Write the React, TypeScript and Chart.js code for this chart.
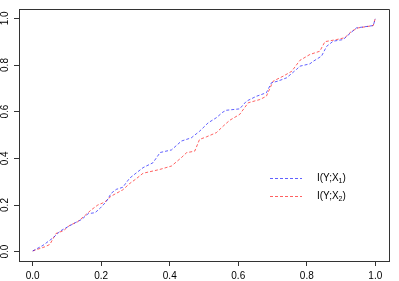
import React, { useEffect, useRef } from "react";
import { Chart, registerables } from "chart.js";

Chart.register(...registerables);

const blueX = [0.0, 0.03, 0.06, 0.08, 0.104, 0.124, 0.143, 0.162, 0.182, 0.196, 0.215, 0.229, 0.244, 0.263, 0.283, 0.322, 0.351, 0.372, 0.405, 0.434, 0.463, 0.487, 0.512, 0.536, 0.555, 0.565, 0.604, 0.624, 0.653, 0.682, 0.697, 0.716, 0.741, 0.77, 0.78, 0.809, 0.819, 0.843, 0.858, 0.877, 0.906, 0.926, 0.945, 0.994, 1.0];
const blueY = [0.003, 0.027, 0.06, 0.088, 0.108, 0.124, 0.138, 0.163, 0.167, 0.185, 0.215, 0.25, 0.267, 0.276, 0.315, 0.36, 0.381, 0.425, 0.436, 0.474, 0.488, 0.516, 0.552, 0.574, 0.598, 0.606, 0.612, 0.645, 0.666, 0.681, 0.724, 0.731, 0.745, 0.781, 0.795, 0.805, 0.816, 0.838, 0.88, 0.902, 0.909, 0.935, 0.959, 0.969, 0.998];

const redX = [0.0, 0.036, 0.05, 0.068, 0.09, 0.108, 0.13, 0.151, 0.17, 0.19, 0.21, 0.229, 0.263, 0.283, 0.3, 0.322, 0.37, 0.405, 0.434, 0.449, 0.473, 0.487, 0.507, 0.536, 0.556, 0.575, 0.604, 0.629, 0.663, 0.682, 0.702, 0.731, 0.756, 0.78, 0.809, 0.838, 0.853, 0.887, 0.911, 0.931, 0.95, 0.994, 1.0];
const redY = [0.003, 0.021, 0.031, 0.078, 0.09, 0.113, 0.127, 0.153, 0.178, 0.2, 0.212, 0.238, 0.265, 0.292, 0.31, 0.336, 0.352, 0.367, 0.403, 0.424, 0.431, 0.481, 0.492, 0.51, 0.538, 0.563, 0.588, 0.638, 0.652, 0.666, 0.731, 0.752, 0.773, 0.82, 0.845, 0.859, 0.9, 0.909, 0.917, 0.945, 0.959, 0.969, 1.0];

const xTicks = [0, 0.2, 0.4, 0.6, 0.8, 1.0];
const yTicks = [0, 0.2, 0.4, 0.6, 0.8, 1.0];

const seriesLabels = ["I(Y;X\u2081)", "I(Y;X\u2082)"];
const legendBase = ["I(Y;X", "I(Y;X"];
const legendSub = ["1", "2"];
const legendTail = [")", ")"];

const BLUE = "rgba(0,0,255,0.62)";
const RED = "rgba(255,0,0,0.62)";
const FONT = "'Liberation Sans', Arial, sans-serif";
const AXIS = "#333";

const boxPlugin = {
  id: "box",
  afterDraw(chart: any) {
    const { ctx, chartArea: a } = chart;
    ctx.save();
    ctx.strokeStyle = AXIS;
    ctx.lineWidth = 1;
    ctx.setLineDash([]);
    ctx.beginPath();
    ctx.moveTo(Math.round(a.left) + 0.5, Math.round(a.top) + 0.5);
    ctx.lineTo(Math.round(a.right) + 0.5, Math.round(a.top) + 0.5);
    ctx.lineTo(Math.round(a.right) + 0.5, Math.round(a.bottom) + 0.5);
    ctx.stroke();
    ctx.restore();
  },
};

const legendPlugin = {
  id: "rlegend",
  afterDraw(chart: any) {
    const { ctx } = chart;
    const colors = [BLUE, RED];
    const rows = [178.5, 196.5];
    ctx.save();
    for (let i = 0; i < 2; i++) {
      const y = rows[i];
      ctx.strokeStyle = colors[i];
      ctx.lineWidth = 1;
      ctx.setLineDash([3, 2]);
      ctx.beginPath();
      ctx.moveTo(270, y);
      ctx.lineTo(302, y);
      ctx.stroke();
      ctx.setLineDash([]);
      ctx.fillStyle = "#000";
      ctx.textBaseline = "middle";
      ctx.textAlign = "left";
      let x = 317;
      ctx.font = `10px ${FONT}`;
      ctx.fillText(legendBase[i], x, y);
      x += ctx.measureText(legendBase[i]).width;
      ctx.font = `7px ${FONT}`;
      ctx.fillText(legendSub[i], x, y + 2.5);
      x += ctx.measureText(legendSub[i]).width;
      ctx.font = `10px ${FONT}`;
      ctx.fillText(legendTail[i], x, y);
    }
    ctx.restore();
  },
};

export default function App() {
  const ref = useRef<HTMLCanvasElement | null>(null);
  useEffect(() => {
    document.body.style.margin = "0";
    if (!ref.current) return;
    const chart = new Chart(ref.current, {
      type: "scatter",
      data: {
        datasets: [
          {
            label: seriesLabels[0],
            data: blueX.map((x, i) => ({ x, y: blueY[i] })),
            showLine: true,
            borderColor: BLUE,
            borderWidth: 1,
            borderDash: [3, 2],
            pointRadius: 0,
            tension: 0,
          },
          {
            label: seriesLabels[1],
            data: redX.map((x, i) => ({ x, y: redY[i] })),
            showLine: true,
            borderColor: RED,
            borderWidth: 1,
            borderDash: [3, 2],
            pointRadius: 0,
            tension: 0,
          },
        ],
      },
      options: {
        animation: false,
        responsive: false,
        layout: { padding: { top: 9, right: 10, left: 0, bottom: 0 } },
        plugins: { legend: { display: false }, tooltip: { enabled: false } },
        scales: {
          x: {
            type: "linear",
            min: -0.04,
            max: 1.04,
            afterBuildTicks: (s: any) => {
              s.ticks = xTicks.map((v) => ({ value: v }));
            },
            afterFit: (s: any) => {
              s.height = 20;
            },
            ticks: {
              autoSkip: false,
              maxRotation: 0,
              padding: 4,
              color: "#000",
              font: { family: FONT, size: 10 },
              callback: (v: any) => Number(v).toFixed(1),
            },
            grid: { drawOnChartArea: false, tickLength: 5, color: AXIS, tickWidth: 1 },
            border: { color: AXIS, width: 1 },
          },
          y: {
            type: "linear",
            min: -0.04,
            max: 1.04,
            afterBuildTicks: (s: any) => {
              s.ticks = yTicks.map((v) => ({ value: v }));
            },
            afterFit: (s: any) => {
              s.width = 19;
            },
            ticks: {
              autoSkip: false,
              minRotation: 90,
              maxRotation: 90,
              crossAlign: "center",
              padding: 2,
              color: "#000",
              font: { family: FONT, size: 10 },
              callback: (v: any) => Number(v).toFixed(1),
            },
            grid: { drawOnChartArea: false, tickLength: 5, color: AXIS, tickWidth: 1 },
            border: { color: AXIS, width: 1 },
          },
        },
      },
      plugins: [boxPlugin, legendPlugin],
    });
    return () => chart.destroy();
  }, []);
  return (
    <div style={{ width: 399, height: 281 }}>
      <canvas ref={ref} width={399} height={281} style={{ display: "block" }} />
    </div>
  );
}
